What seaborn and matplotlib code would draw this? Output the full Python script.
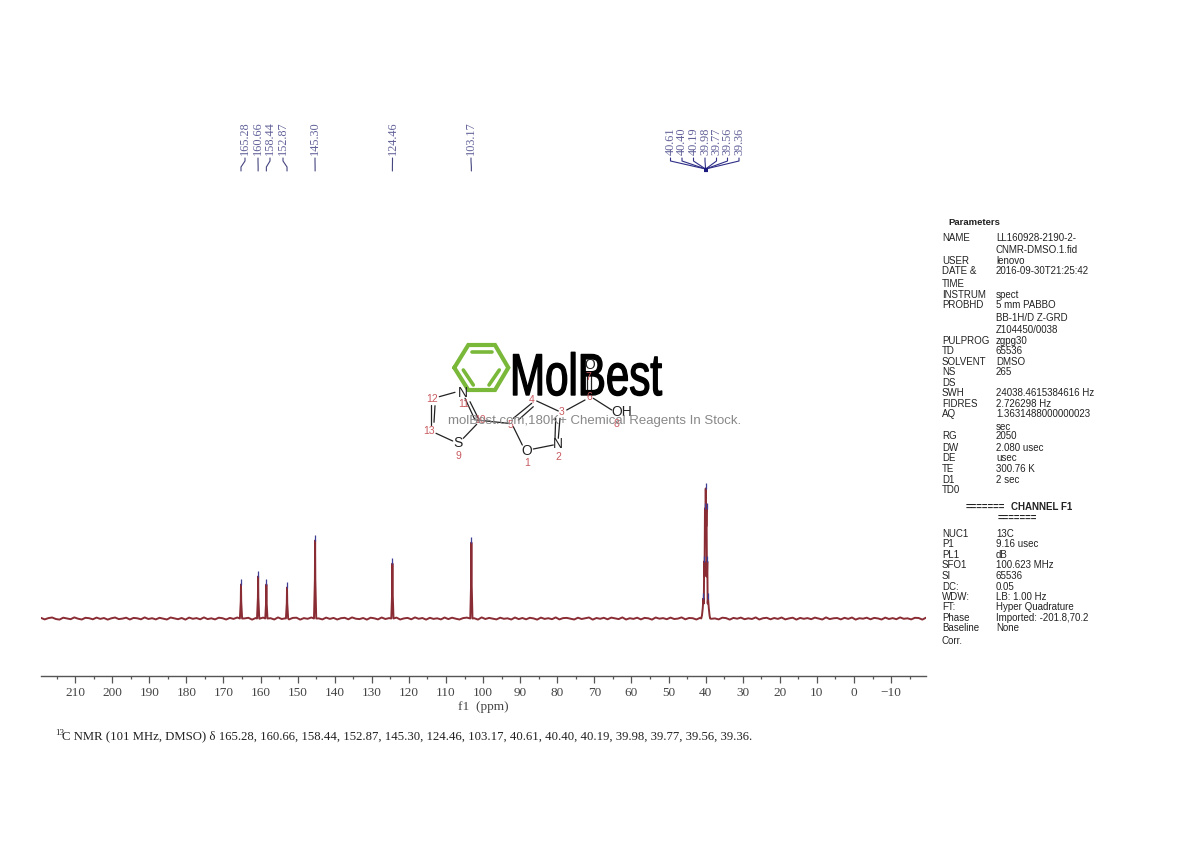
import numpy as np
import pandas as pd
import seaborn as sns
import matplotlib
matplotlib.use('Agg')
import matplotlib.pyplot as plt
import matplotlib.patheffects as pe
from matplotlib.ticker import MultipleLocator
from matplotlib.transforms import Affine2D

# Peaks of the spectrum (ppm, height above baseline)
single_ppm = [165.28, 160.66, 158.44, 152.87, 145.30, 124.46, 103.17]
single_height = [34, 42, 34, 31, 78, 55, 76]
solvent_ppm = [40.61, 40.40, 40.19, 39.98, 39.77, 39.56, 39.36]
solvent_height = [20, 57, 110, 130, 110, 57, 20]
solvent_valley = [15, 42, 92, 92, 42, 15]
solvent_flank = [3, 10, 10, 3]

# Baseline noise, left to right
noise = [
    0.6, -0.9, 0.4, 1.0, -0.5, -1.1, 0.8, 0.1, -0.7, 1.1, -0.2, -1.0, 0.7, 0.3, -0.8, 0.9,
    -0.4, 0.5, -1.1, 0.2, 1.0, -0.6, -0.1, 0.8, -1.0, 0.6, 0.2, -0.8, 1.1, -0.5, 0.3, -0.9,
    0.7, -0.2, -1.0, 1.0, 0.1, -0.7, 0.5, -1.1, 0.9, -0.3, 0.4, -0.8, 1.1, -0.6, 0.2, -0.9,
    0.8, 0.3, -1.0, 0.6, -0.4, 1.0, -0.8, 0.1, 0.7, -1.1, 0.5, -0.2, 0.9, -0.7, 0.3, -1.0,
    1.1, -0.5, 0.2, -0.9, 0.6, 0.8, -1.1, 0.4, -0.3, 1.0, -0.7, 0.1, -0.9, 0.9, -0.4, 0.6,
    -1.0, 0.3, 0.7, -0.8, 1.1, -0.2, -0.6, 0.5, -1.1, 0.8, 0.2, -0.9, 1.0, -0.5, 0.4, -0.7,
    0.9, -1.0, 0.1, 0.6, -0.8, 1.1, -0.3, 0.5, -1.1, 0.7, -0.4, 0.2, -0.9, 1.0, -0.6, 0.8,
    -0.2, -1.0, 0.4, 0.9, -0.7, 0.3, -1.1, 1.1, -0.5, 0.6, -0.1, -0.9, 0.8, -0.3, 0.2, -1.0,
    1.0, -0.6, 0.5, -0.8, 0.7, 0.1, -1.1, 0.9, -0.4, 0.3, -0.7, 1.1, -0.9, 0.4, 0.6, -0.2,
    -1.0, 0.8, -0.5, 0.2, 1.0, -1.1, 0.5, -0.3, 0.7, -0.8, 0.9, 0.1, -0.6, 1.1, -1.0, 0.3,
    -0.4, 0.8, -0.9, 0.6, 0.2, -1.1, 1.0, -0.2, 0.4, -0.7, 0.9, -0.5, -0.1, 1.1, -0.8, 0.5,
    0.3, -1.0, 0.7, -0.6, 1.0, -0.3, 0.1, -0.9, 0.8, 0.4, -1.1, 0.6, -0.2, 0.9, -0.7, 0.2,
    -0.5, 1.1, -1.0, 0.3, 0.7, -0.8, 0.5, -0.4, 1.0, -0.9, 0.1, 0.8, -1.1, 0.6, -0.3, 0.4,
    -0.7, 0.9, -0.1, -1.0, 1.1, -0.6, 0.2, 0.5, -0.9, 0.7, -0.4, 1.0, -1.1, 0.3, -0.2, 0.8,
    -0.8, 0.6, 0.1, -1.0, 0.9, -0.5, 0.4, -0.7, 1.1, -0.3, 0.2, -0.9, 0.7, 0.5, -1.1, 0.8,
]

caption = ('C NMR (101 MHz, DMSO) \u03b4 165.28, 160.66, 158.44, 152.87, 145.30, 124.46, '
           '103.17, 40.61, 40.40, 40.19, 39.98, 39.77, 39.56, 39.36.')

# Parameter block: (row y, left column, right column)
params = [
    (238, 'NAME', 'LL160928-2190-2-'), (250, '', 'CNMR-DMSO.1.fid'),
    (261, 'USER', 'lenovo'), (271, 'DATE &', '2016-09-30T21:25:42'), (284, 'TIME', ''),
    (295, 'INSTRUM', 'spect'), (305, 'PROBHD', '5 mm PABBO'), (318, '', 'BB-1H/D Z-GRD'),
    (330, '', 'Z104450/0038'), (341, 'PULPROG', 'zgpg30'), (351, 'TD', '65536'),
    (362, 'SOLVENT', 'DMSO'), (372, 'NS', '265'), (383, 'DS', ''),
    (393, 'SWH', '24038.4615384616 Hz'), (404, 'FIDRES', '2.726298 Hz'),
    (414, 'AQ', '1.3631488000000023'), (427, '', 'sec'), (436, 'RG', '2050'),
    (448, 'DW', '2.080 usec'), (458, 'DE', 'usec'), (469, 'TE', '300.76 K'),
    (480, 'D1', '2 sec'), (490, 'TD0', ''),
    (534, 'NUC1', '13C'), (544, 'P1', '9.16 usec'), (555, 'PL1', 'dB'),
    (565, 'SFO1', '100.623 MHz'), (576, 'SI', '65536'), (587, 'DC:', '0.05'),
    (597, 'WDW:', 'LB: 1.00 Hz'), (607, 'FT:', 'Hyper Quadrature'),
    (618, 'Phase', 'Imported: -201.8,70.2'), (628, 'Baseline', 'None'), (641, 'Corr.', ''),
]

# Build the trace: noise everywhere except under the peaks
grid = np.linspace(219.2, -19.4, len(noise))
noise = np.array(noise)
keep = np.ones(len(grid), dtype=bool)
for p in single_ppm:
    keep &= np.abs(grid - p) > 0.35
keep &= (grid > 41.2) | (grid < 38.8)

ppm_parts = [grid[keep]]
val_parts = [noise[keep]]
for p, h in zip(single_ppm, single_height):
    ppm_parts.append([p + 0.3, p + 0.06, p, p - 0.06, p - 0.3])
    val_parts.append([0, h * 0.5, h, h * 0.5, 0])
valley_ppm = [40.5, 40.3, 40.08, 39.87, 39.66, 39.46]
flank_ppm = [41.0, 40.8, 39.15, 38.95]
ppm_parts.append([41.2, 38.8] + flank_ppm + solvent_ppm + valley_ppm)
val_parts.append([0, 0] + solvent_flank + solvent_height + solvent_valley)
df = pd.DataFrame({'ppm': np.concatenate(ppm_parts), 'intensity': np.concatenate(val_parts)})
df = df.sort_values('ppm', ascending=False)

sns.set_theme(style='white')
plt.rcParams['font.family'] = ['Liberation Serif', 'DejaVu Serif']

fig = plt.figure(figsize=(11.9, 8.41), dpi=100, facecolor='white')
ax = fig.add_axes([41 / 1190, 1 - 676 / 841, 885 / 1190, 576 / 841])
sns.lineplot(data=df, x='ppm', y='intensity', sort=False, estimator=None,
             color='#8a2c34', linewidth=1.4, ax=ax)
ax.set_xlim(219.2, -19.4)
ax.set_ylim(-57.5, 518.5)

# Small blue integral marks sitting on the peak tops
blue = '#3f3f96'
all_ppm = single_ppm + solvent_ppm
all_height = single_height + solvent_height
ax.vlines(all_ppm, all_height, np.array(all_height) + 6, color=blue, linewidth=0.9, zorder=5)

sns.despine(ax=ax, left=True, top=True, right=True)
ax.spines['bottom'].set_color('#555555')
ax.spines['bottom'].set_linewidth(1.0)
ax.set_yticks([])
ax.xaxis.set_major_locator(MultipleLocator(10))
ax.xaxis.set_minor_locator(MultipleLocator(5))
ax.tick_params(axis='x', which='major', bottom=True, length=5, width=0.9, color='#555555',
               labelsize=9.5, labelcolor='#444444', pad=3)
ax.tick_params(axis='x', which='minor', bottom=True, length=2.5, width=0.9, color='#555555')
ax.set_xlabel('f1  (ppm)', fontsize=9.5, color='#444444', labelpad=1.5)
ax.set_ylabel('')
ax.patch.set_alpha(0)

# Overlay in pixel coordinates for labels, parameters, structure and logo
ov = fig.add_axes([0, 0, 1, 1])
ov.set_xlim(0, 1190)
ov.set_ylim(841, 0)
ov.axis('off')
ov.patch.set_alpha(0)


def peak_x(p):
    return ax.transData.transform((p, 0))[0]


# Peak labels with their connector lines
label_col = '#62629a'
single_label_x = [245, 258, 270, 283, 315, 392.5, 471]
for p, lx in zip(single_ppm, single_label_x):
    ov.text(lx, 155, f'{p:.2f}', rotation=90, ha='center', va='bottom', fontsize=8.8, color=label_col)
    ov.plot([lx, lx, peak_x(p), peak_x(p)], [158, 161, 167, 171], color='#44447f', lw=0.8)
solvent_label_x = [670.5, 682, 693.5, 705, 716.5, 727.5, 739]
for p, lx in zip(solvent_ppm, solvent_label_x):
    ov.text(lx, 155, f'{p:.2f}', rotation=90, ha='center', va='bottom', fontsize=8.8, color=label_col)
    ov.plot([lx, lx, 705.6], [158, 161, 169], color='#2f2f88', lw=0.8)
ov.plot([703.5, 707.5], [169.5, 169.5], color='#1a1a80', lw=3, solid_capstyle='butt')

# Parameter block
sans = ['Liberation Sans', 'DejaVu Sans']
ov.text(948, 222.5, 'Parameters', family=sans, fontsize=6.8, weight='bold', color='#222222', va='center')
for y, left, right in params:
    if left:
        ov.text(942, y, left, family=sans, fontsize=7, color='#222222', va='center')
    if right:
        ov.text(996, y, right, family=sans, fontsize=7, color='#222222', va='center')
ov.text(966, 507, '=======', family=sans, fontsize=7, weight='bold', color='#222222', va='center')
ov.text(1011, 507, 'CHANNEL F1', family=sans, fontsize=7, weight='bold', color='#222222', va='center')
ov.text(998, 518, '=======', family=sans, fontsize=7, weight='bold', color='#222222', va='center')

# Caption
ov.text(55, 733, '13', fontsize=6.5, color='#222222', va='center')
ov.text(62, 736, caption, fontsize=9.2, color='#222222', va='center')


# Logo text is taller than the font, stretch it upward from its baseline
class Stretch(pe.AbstractPathEffect):
    def __init__(self, sy, y0):
        super().__init__()
        self.sy = sy
        self.y0 = y0

    def draw_path(self, renderer, gc, tpath, affine, rgbFace=None):
        stretch = Affine2D().translate(0, -self.y0).scale(1, self.sy).translate(0, self.y0)
        gc.set_linewidth(1.0)
        gc.set_foreground('black')
        renderer.draw_path(gc, tpath, affine + stretch, rgbFace)


green = '#7ab83a'
hex_x = [454.3, 468.3, 495, 508.3, 495, 468.3, 454.3]
hex_y = [367.7, 345, 345, 367.7, 390, 390, 367.7]
ov.plot(hex_x, hex_y, color=green, lw=3, solid_joinstyle='miter')
for xs, ys in [([471.7, 491.7], [351.7, 351.7]), ([463.3, 473.3], [370, 385]), ([499.3, 489], [370, 385])]:
    ov.plot(xs, ys, color=green, lw=2.6)
ov.text(510, 395, 'MolBest', family=sans, fontsize=30.3, color='black', va='baseline',
        path_effects=[Stretch(1.4, 841 - 395)])

# Structure drawing, in pixel positions of the sketch
bonds = [
    ((439.3, 396.7), (455, 392.3)), ((431, 405), (431, 425)), ((435, 405.7), (434, 422.3)),
    ((436, 433.3), (452.7, 441)), ((463.3, 438.3), (476.7, 424.3)), ((465, 398.3), (475, 420)),
    ((470, 401.7), (478.3, 418.3)), ((476.7, 420), (508.3, 423.3)), ((513.3, 418.3), (531.7, 403.3)),
    ((518.3, 420), (533.3, 406.7)), ((536.7, 401), (558.3, 411)), ((555.7, 418.3), (555, 438.3)),
    ((560, 418.3), (558.3, 438.3)), ((553.3, 445), (533.3, 449)), ((522.3, 445), (513.3, 426.7)),
    ((566.7, 410), (585, 400)), ((586.7, 391.7), (586.7, 371.7)), ((591, 391.7), (591, 371.7)),
    ((593.3, 398.3), (611.7, 410)),
]
for a, b in bonds:
    ov.plot([a[0], b[0]], [a[1], b[1]], color='#222222', lw=0.9)
atoms = [('N', 463.3, 393.3), ('S', 458.3, 443.3), ('N', 558, 444), ('O', 526.7, 451),
         ('O', 589.3, 365), ('OH', 621.7, 412)]
for name, x, y in atoms:
    ov.text(x, y, name, family=sans, fontsize=10, color='#222222', ha='center', va='center')
numbers = [('12', 432, 399), ('13', 429, 430.7), ('11', 464, 404), ('10', 480, 420), ('9', 458, 455.7),
           ('5', 510, 425), ('4', 532, 400), ('3', 561.7, 412), ('2', 558, 456.7), ('1', 527.3, 462.7),
           ('6', 589, 396.7), ('7', 588, 377), ('8', 616.7, 424)]
for name, x, y in numbers:
    ov.text(x, y, name, family=sans, fontsize=7.5, color='#c85a60', ha='center', va='center')

ov.text(448, 421, 'molBest.com,180K+ Chemical Reagents In Stock.', family=sans, fontsize=9.5,
        color='#888888', va='center')

fig.savefig('out.png', dpi=100)
